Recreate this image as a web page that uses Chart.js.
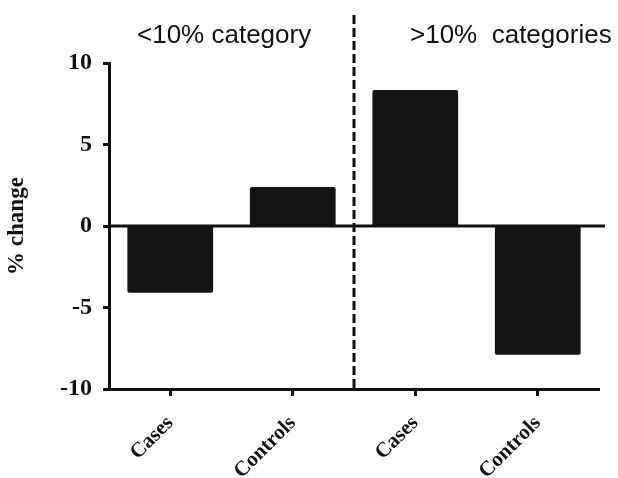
<!DOCTYPE html>
<html>
<head>
<meta charset="utf-8">
<script src="https://cdn.jsdelivr.net/npm/chart.js@4.4.1/dist/chart.umd.min.js"></script>
<style>
  html, body { margin: 0; padding: 0; background: #fff; }
  #wrap { width: 618px; height: 478px; position: relative; }
</style>
</head>
<body>
<div id="wrap"><canvas id="c" width="618" height="478"></canvas></div>
<script>
const categories = ["Cases", "Controls", "Cases", "Controls"];
const percentChange = [-4.1, 2.4, 8.35, -7.9];
const groupLabels = ["<10% category", ">10%  categories"];
const yTicks = [-10, -5, 0, 5, 10];
const yTitle = "% change";

const serif = "'Liberation Serif', 'Times New Roman', serif";

const groupPlugin = {
  id: "groups",
  afterDatasetsDraw(chart) {
    const { ctx, chartArea, scales } = chart;
    const y = scales.y;
    const zeroY = y.getPixelForValue(0);
    ctx.save();
    ctx.strokeStyle = "#111";
    ctx.lineWidth = 3;
    ctx.beginPath();
    ctx.moveTo(chartArea.left, zeroY);
    ctx.lineTo(chartArea.right + 6, zeroY);
    ctx.stroke();
    ctx.restore();
  },
  afterDraw(chart) {
    const { ctx, chartArea, scales } = chart;
    const x = scales.x;
    const sepX = (x.getPixelForValue(1) + x.getPixelForValue(2)) / 2;
    ctx.save();
    ctx.strokeStyle = "#111";
    ctx.lineWidth = 3;
    ctx.setLineDash([9, 4]);
    ctx.beginPath();
    ctx.moveTo(sepX, 15);
    ctx.lineTo(sepX, chartArea.bottom);
    ctx.stroke();
    ctx.setLineDash([]);
    ctx.fillStyle = "#111";
    ctx.font = "26px 'Liberation Sans', Arial, sans-serif";
    ctx.textBaseline = "alphabetic";
    ctx.textAlign = "left";
    ctx.fillText(groupLabels[0], chartArea.left + 28, 43);
    ctx.fillText(groupLabels[1], sepX + 56, 43);
    ctx.restore();
  }
};

new Chart(document.getElementById("c"), {
  type: "bar",
  data: {
    labels: categories,
    datasets: [{
      data: percentChange,
      backgroundColor: "#141414",
      borderWidth: 0,
      borderRadius: 2,
      borderSkipped: "start",
      categoryPercentage: 1.0,
      barPercentage: 0.7
    }]
  },
  options: {
    responsive: false,
    animation: false,
    devicePixelRatio: 1,
    layout: { padding: { top: 63, right: 19, bottom: 0, left: 0 } },
    plugins: { legend: { display: false }, tooltip: { enabled: false } },
    scales: {
      x: {
        grid: {
          offset: false,
          drawOnChartArea: false,
          drawTicks: true,
          tickLength: 7,
          tickWidth: 3,
          tickColor: "#111"
        },
        border: { display: true, color: "#111", width: 3 },
        ticks: {
          color: "#111",
          font: { family: serif, weight: "bold", size: 21 },
          minRotation: 45,
          maxRotation: 45,
          padding: 15
        },
        afterFit(scale) { scale.height = 89; }
      },
      y: {
        min: -10,
        max: 10,
        afterBuildTicks(scale) { scale.ticks = yTicks.map(v => ({ value: v })); },
        grid: {
          drawOnChartArea: false,
          tickLength: 6,
          tickWidth: 3,
          tickColor: "#111"
        },
        border: { display: true, color: "#111", width: 3 },
        ticks: {
          color: "#111",
          font: { family: serif, weight: "bold", size: 24 },
          padding: 11
        },
        title: {
          display: true,
          text: yTitle,
          color: "#111",
          font: { family: serif, weight: "bold", size: 23 },
          padding: { top: 3, bottom: 3 }
        },
        afterFit(scale) { scale.width = 109; }
      }
    }
  },
  plugins: [groupPlugin]
});
</script>
</body>
</html>
